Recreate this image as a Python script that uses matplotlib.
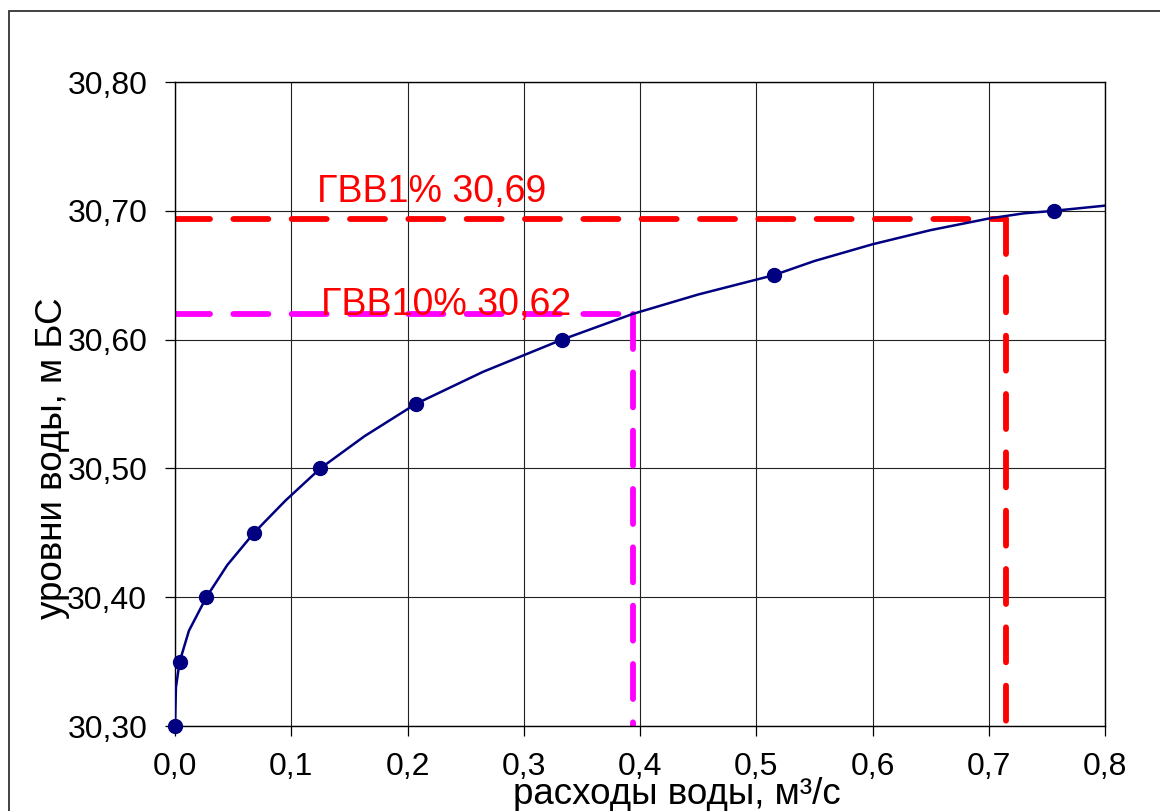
import matplotlib
matplotlib.use("Agg")
import matplotlib.pyplot as plt
from matplotlib.patches import Rectangle
from matplotlib.ticker import FuncFormatter, MultipleLocator

plt.rcParams['font.family'] = ['Liberation Sans', 'DejaVu Sans']

# измеренные точки (расход, уровень)
q_pts = [0.0, 0.004, 0.027, 0.068, 0.125, 0.207, 0.333, 0.515, 0.756]
h_pts = [30.30, 30.35, 30.40, 30.45, 30.50, 30.55, 30.60, 30.65, 30.70]

# кривая расходов
q_curve = [0.0, 0.0008, 0.004, 0.012, 0.027, 0.045, 0.068, 0.095, 0.125, 0.163,
           0.207, 0.265, 0.333, 0.394, 0.45, 0.515, 0.55, 0.60, 0.65, 0.70,
           0.73, 0.756, 0.80]
h_curve = [30.30, 30.33, 30.35, 30.374, 30.40, 30.425, 30.45, 30.475, 30.50, 30.525,
           30.55, 30.575, 30.60, 30.62, 30.635, 30.65, 30.661, 30.674, 30.685, 30.694,
           30.698, 30.70, 30.704]

# ГВВ
q_1, h_1 = 0.715, 30.694
q_10, h_10 = 0.394, 30.62
label_1 = "ГВВ1% 30,69"
label_10 = "ГВВ10% 30,62"

fig = plt.figure(figsize=(11.6, 8.11), dpi=100)
ax = fig.add_axes([175/1160, 1-726/811, 930/1160, 644/811])

fig.patches.append(Rectangle((9/1160, -0.1), 1.2, 1.1 - 11/811,
                             transform=fig.transFigure, fill=False,
                             edgecolor='#333333', lw=1.3))

ax.set_xlim(0, 0.8)
ax.set_ylim(30.3, 30.8)
ax.xaxis.set_major_locator(MultipleLocator(0.1))
ax.yaxis.set_major_locator(MultipleLocator(0.1))
ax.xaxis.set_major_formatter(FuncFormatter(lambda v, p: f"{v:.1f}".replace('.', ',')))
ax.yaxis.set_major_formatter(FuncFormatter(lambda v, p: f"{v:.2f}".replace('.', ',')))
ax.tick_params(axis='both', labelsize=23, direction='out', length=7, width=0.9)
ax.tick_params(axis='y', pad=13)
ax.tick_params(axis='x', pad=12)
ax.grid(True, color='#222222', lw=0.8, zorder=0)
ax.set_axisbelow(True)
for s in ax.spines.values():
    s.set_linewidth(1.0)
    s.set_color('black')

dash = (0, (6, 4))
ax.plot([0, q_1], [h_1, h_1], color='#ff0000', lw=4.2, linestyle=dash,
        dash_capstyle='round', zorder=2)
ax.plot([q_1, q_1], [h_1, 30.3], color='#ff0000', lw=4.2, linestyle=dash,
        dash_capstyle='round', zorder=2, clip_on=False)
ax.plot([0, q_10], [h_10, h_10], color='#ff00ff', lw=4.2, linestyle=dash,
        dash_capstyle='round', zorder=2)
ax.plot([q_10, q_10], [h_10, 30.3], color='#ff00ff', lw=4.2, linestyle=dash,
        dash_capstyle='round', zorder=2)

ax.plot(q_curve, h_curve, color='#000080', lw=1.8, zorder=3)
ax.plot(q_pts, h_pts, 'o', color='#000080', ms=10, zorder=4, clip_on=False)

ax.text(0.122, 30.7068, label_1, color='#ff0000', fontsize=27, va='baseline', zorder=5)
ax.text(0.126, 30.619, label_10, color='#ff0000', fontsize=27, va='baseline', zorder=5)

fig.text(53/1160, 1-458/811, "уровни воды, м БС", rotation=90, fontsize=26.5,
         ha='center', va='center')
fig.text(677/1160, 1-804/811, "расходы воды, м³/с", fontsize=26.5,
         ha='center', va='baseline')

fig.savefig("out.png", dpi=100)
